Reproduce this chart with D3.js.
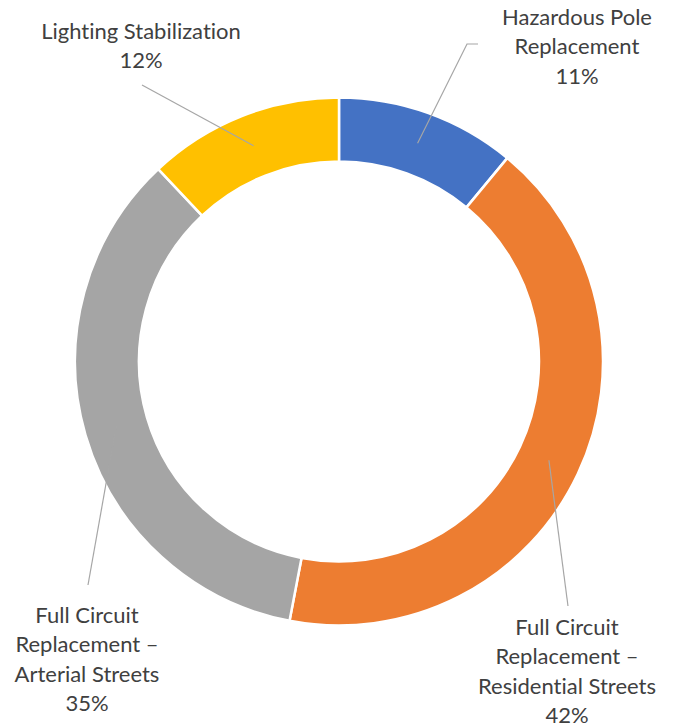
<!DOCTYPE html>
<html lang="en">
<head>
    <meta charset="UTF-8">
    <title>Street Lighting Program Split</title>
    <script src="https://d3js.org/d3.v7.min.js"></script>
    <style>
        body {
            margin: 0;
            padding: 0;
            background: #fff;
        }
        .label text {
            font-family: Lato, "Open Sans", sans-serif;
            font-size: 22px;
            font-variant-ligatures: none;
            fill: #404040;
        }
        .leader {
            fill: none;
            stroke: #A6A6A6;
            stroke-width: 1.2px;
        }
    </style>
</head>
<body>
    <div id="chart"></div>

    <script>
        // data
        const categories = [
            "Hazardous Pole Replacement",
            "Full Circuit Replacement \u2013 Residential Streets",
            "Full Circuit Replacement \u2013 Arterial Streets",
            "Lighting Stabilization"
        ];
        const values = [11, 42, 35, 12];
        const colors = ["#4472C4", "#ED7D31", "#A5A5A5", "#FFC000"];

        // label lines as they wrap in the picture
        const labelLines = [
            ["Hazardous Pole", "Replacement"],
            ["Full Circuit", "Replacement \u2013", "Residential Streets"],
            ["Full Circuit", "Replacement \u2013", "Arterial Streets"],
            ["Lighting Stabilization"]
        ];

        // layout: label centre x, first baseline y, and leader line end (plus optional elbow)
        const labelLayout = [
            { x: 577, y: 25, end: [478, 44], elbow: [467, 44] },
            { x: 567, y: 635, end: [568, 606] },
            { x: 87, y: 623, end: [88, 585] },
            { x: 141, y: 39, end: [142, 85] }
        ];

        const width = 675;
        const height = 725;
        const cx = 339, cy = 361.5;
        const outerR = 264, innerR = 200;
        const lineH = 29.3;

        const svg = d3.select("#chart")
            .append("svg")
            .attr("width", width)
            .attr("height", height);

        const g = svg.append("g")
            .attr("transform", `translate(${cx},${cy})`);

        const pie = d3.pie().sort(null).value(d => d.value);
        const arcs = pie(values.map((v, i) => ({ value: v, i })));

        const arc = d3.arc().innerRadius(innerR).outerRadius(outerR);
        const midArc = d3.arc().innerRadius((innerR + outerR) / 2).outerRadius((innerR + outerR) / 2);

        g.selectAll("path.slice")
            .data(arcs)
            .enter().append("path")
            .attr("class", "slice")
            .attr("d", arc)
            .attr("fill", d => colors[d.data.i])
            .attr("stroke", "#fff")
            .attr("stroke-width", 2.5);

        // leader lines
        svg.selectAll("path.leader")
            .data(arcs)
            .enter().append("path")
            .attr("class", "leader")
            .attr("d", d => {
                const c = midArc.centroid(d);
                const L = labelLayout[d.data.i];
                const pts = [[cx + c[0], cy + c[1]]];
                if (L.elbow) pts.push(L.elbow);
                pts.push(L.end);
                return d3.line()(pts);
            });

        // labels
        const labels = svg.selectAll("g.label")
            .data(arcs)
            .enter().append("g")
            .attr("class", "label");

        labels.append("text")
            .attr("text-anchor", "middle")
            .each(function(d) {
                const L = labelLayout[d.data.i];
                const lines = labelLines[d.data.i].concat([d.data.value + "%"]);
                const t = d3.select(this);
                lines.forEach((s, k) => {
                    t.append("tspan")
                        .attr("x", L.x)
                        .attr("y", L.y + k * lineH)
                        .text(s);
                });
            });
    </script>
</body>
</html>
